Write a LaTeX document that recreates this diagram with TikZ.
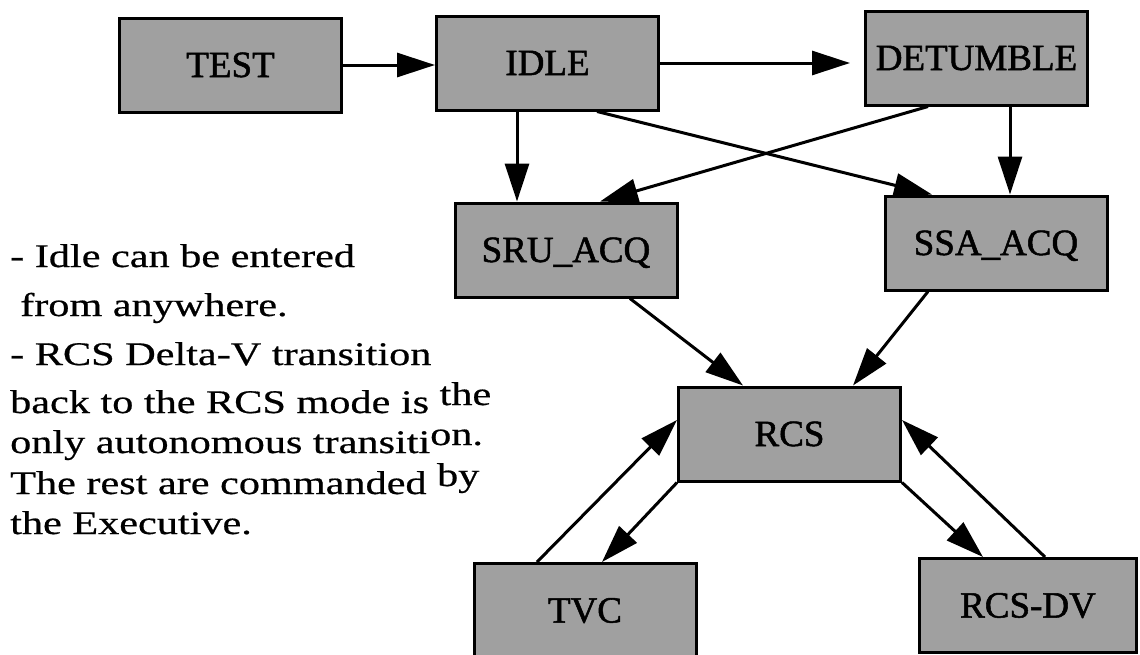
\documentclass[tikz,border=0pt]{standalone}
\usepackage{fontspec}
\setmainfont{Liberation Serif}
\newfontfamily\modefont{Liberation Serif}[FakeBold=1.4]
\newfontfamily\notefont{Liberation Serif}[FakeBold=0.5]
\usetikzlibrary{arrows.meta,calc}
\definecolor{boxgray}{RGB}{160,160,160}
\newcommand{\wide}[1]{\scalebox{1.28}[1]{#1}}
\newcommand{\up}[1]{\raisebox{8pt}{#1}}
\tikzset{
  mode/.style={draw=black, line width=3pt, fill=boxgray,
    minimum width=222pt, minimum height=94pt, inner sep=0pt,
    font=\modefont\fontsize{37}{40}\selectfont, text height=24pt, text depth=0pt},
  trans/.style={line width=3pt, -{Triangle[length=38pt,width=24pt]}},
  note/.style={anchor=base west, inner sep=0pt, font=\notefont\fontsize{33}{40}\selectfont},
}
\begin{document}
\begin{tikzpicture}[x=1pt,y=-1pt]
\useasboundingbox (0,0) rectangle (1140,654);

% modes
\node[mode] (test) at (230.5,65) {TEST};
\node[mode] (idle) at (547.5,63) {IDLE};
\node[mode] (detumble) at (976.5,58) {DETUMBLE};
\node[mode] (sru) at (566,250) {SRU\_ACQ};
\node[mode] (ssa) at (996,243) {SSA\_ACQ};
\node[mode] (rcs) at (789.5,434) {RCS};
\node[mode] (tvc) at (585,610.5) {TVC};
\node[mode, minimum width=217pt] (rcsdv) at (1028,605.5) {RCS-DV};

% transitions
\draw[trans] (test.east) -- (test.east -| idle.west);
\draw[trans, shorten >=14pt] (idle.east) -- (idle.east -| detumble.west);
\draw[trans] ($(idle.south west)+(82,0)$) -- ($(sru.north west)+(63.5,0)$);
\draw[trans] ($(idle.south west)+(162,0)$) -- ($(ssa.north west)+(48.5,0)$);
\draw[trans] ($(detumble.south west)+(64,0)$) -- ($(sru.north west)+(146.5,0)$);
\draw[trans] ($(detumble.south west)+(146,0)$) -- ($(ssa.north west)+(126.5,0)$);
\draw[trans] ($(sru.south west)+(176.5,0)$) -- ($(rcs.north west)+(66,0)$);
\draw[trans] ($(ssa.south west)+(44.5,0)$) -- ($(rcs.north west)+(176,0)$);
\draw[trans] ($(tvc.north west)+(64.5,0)$) -- ($(rcs.north west)+(0,34.5)$);
\draw[trans] (rcs.south west) -- ($(tvc.north west)+(129.5,0)$);
\draw[trans] (rcs.south east) -- ($(rcsdv.north west)+(65,0)$);
\draw[trans] ($(rcsdv.north west)+(127,0)$) -- ($(rcs.north east)+(0,34.5)$);

% notes
\node[note] (n1) at (10,267) {\wide{- Idle can be entered}};
\node[note] (n2) at (20,316) {\wide{from anywhere.}};
\node[note] (n3) at (10,365) {\wide{- RCS Delta-V transition}};
\node[note] (n4) at (10,413) {\wide{back to the RCS mode is \up{the}}};
\node[note] (n5) at (10,453) {\wide{only autonomous transiti\up{on.}}};
\node[note] (n6) at (10,494) {\wide{The rest are commanded \up{by}}};
\node[note] (n7) at (10,534) {\wide{the Executive.}};
\end{tikzpicture}
\end{document}
